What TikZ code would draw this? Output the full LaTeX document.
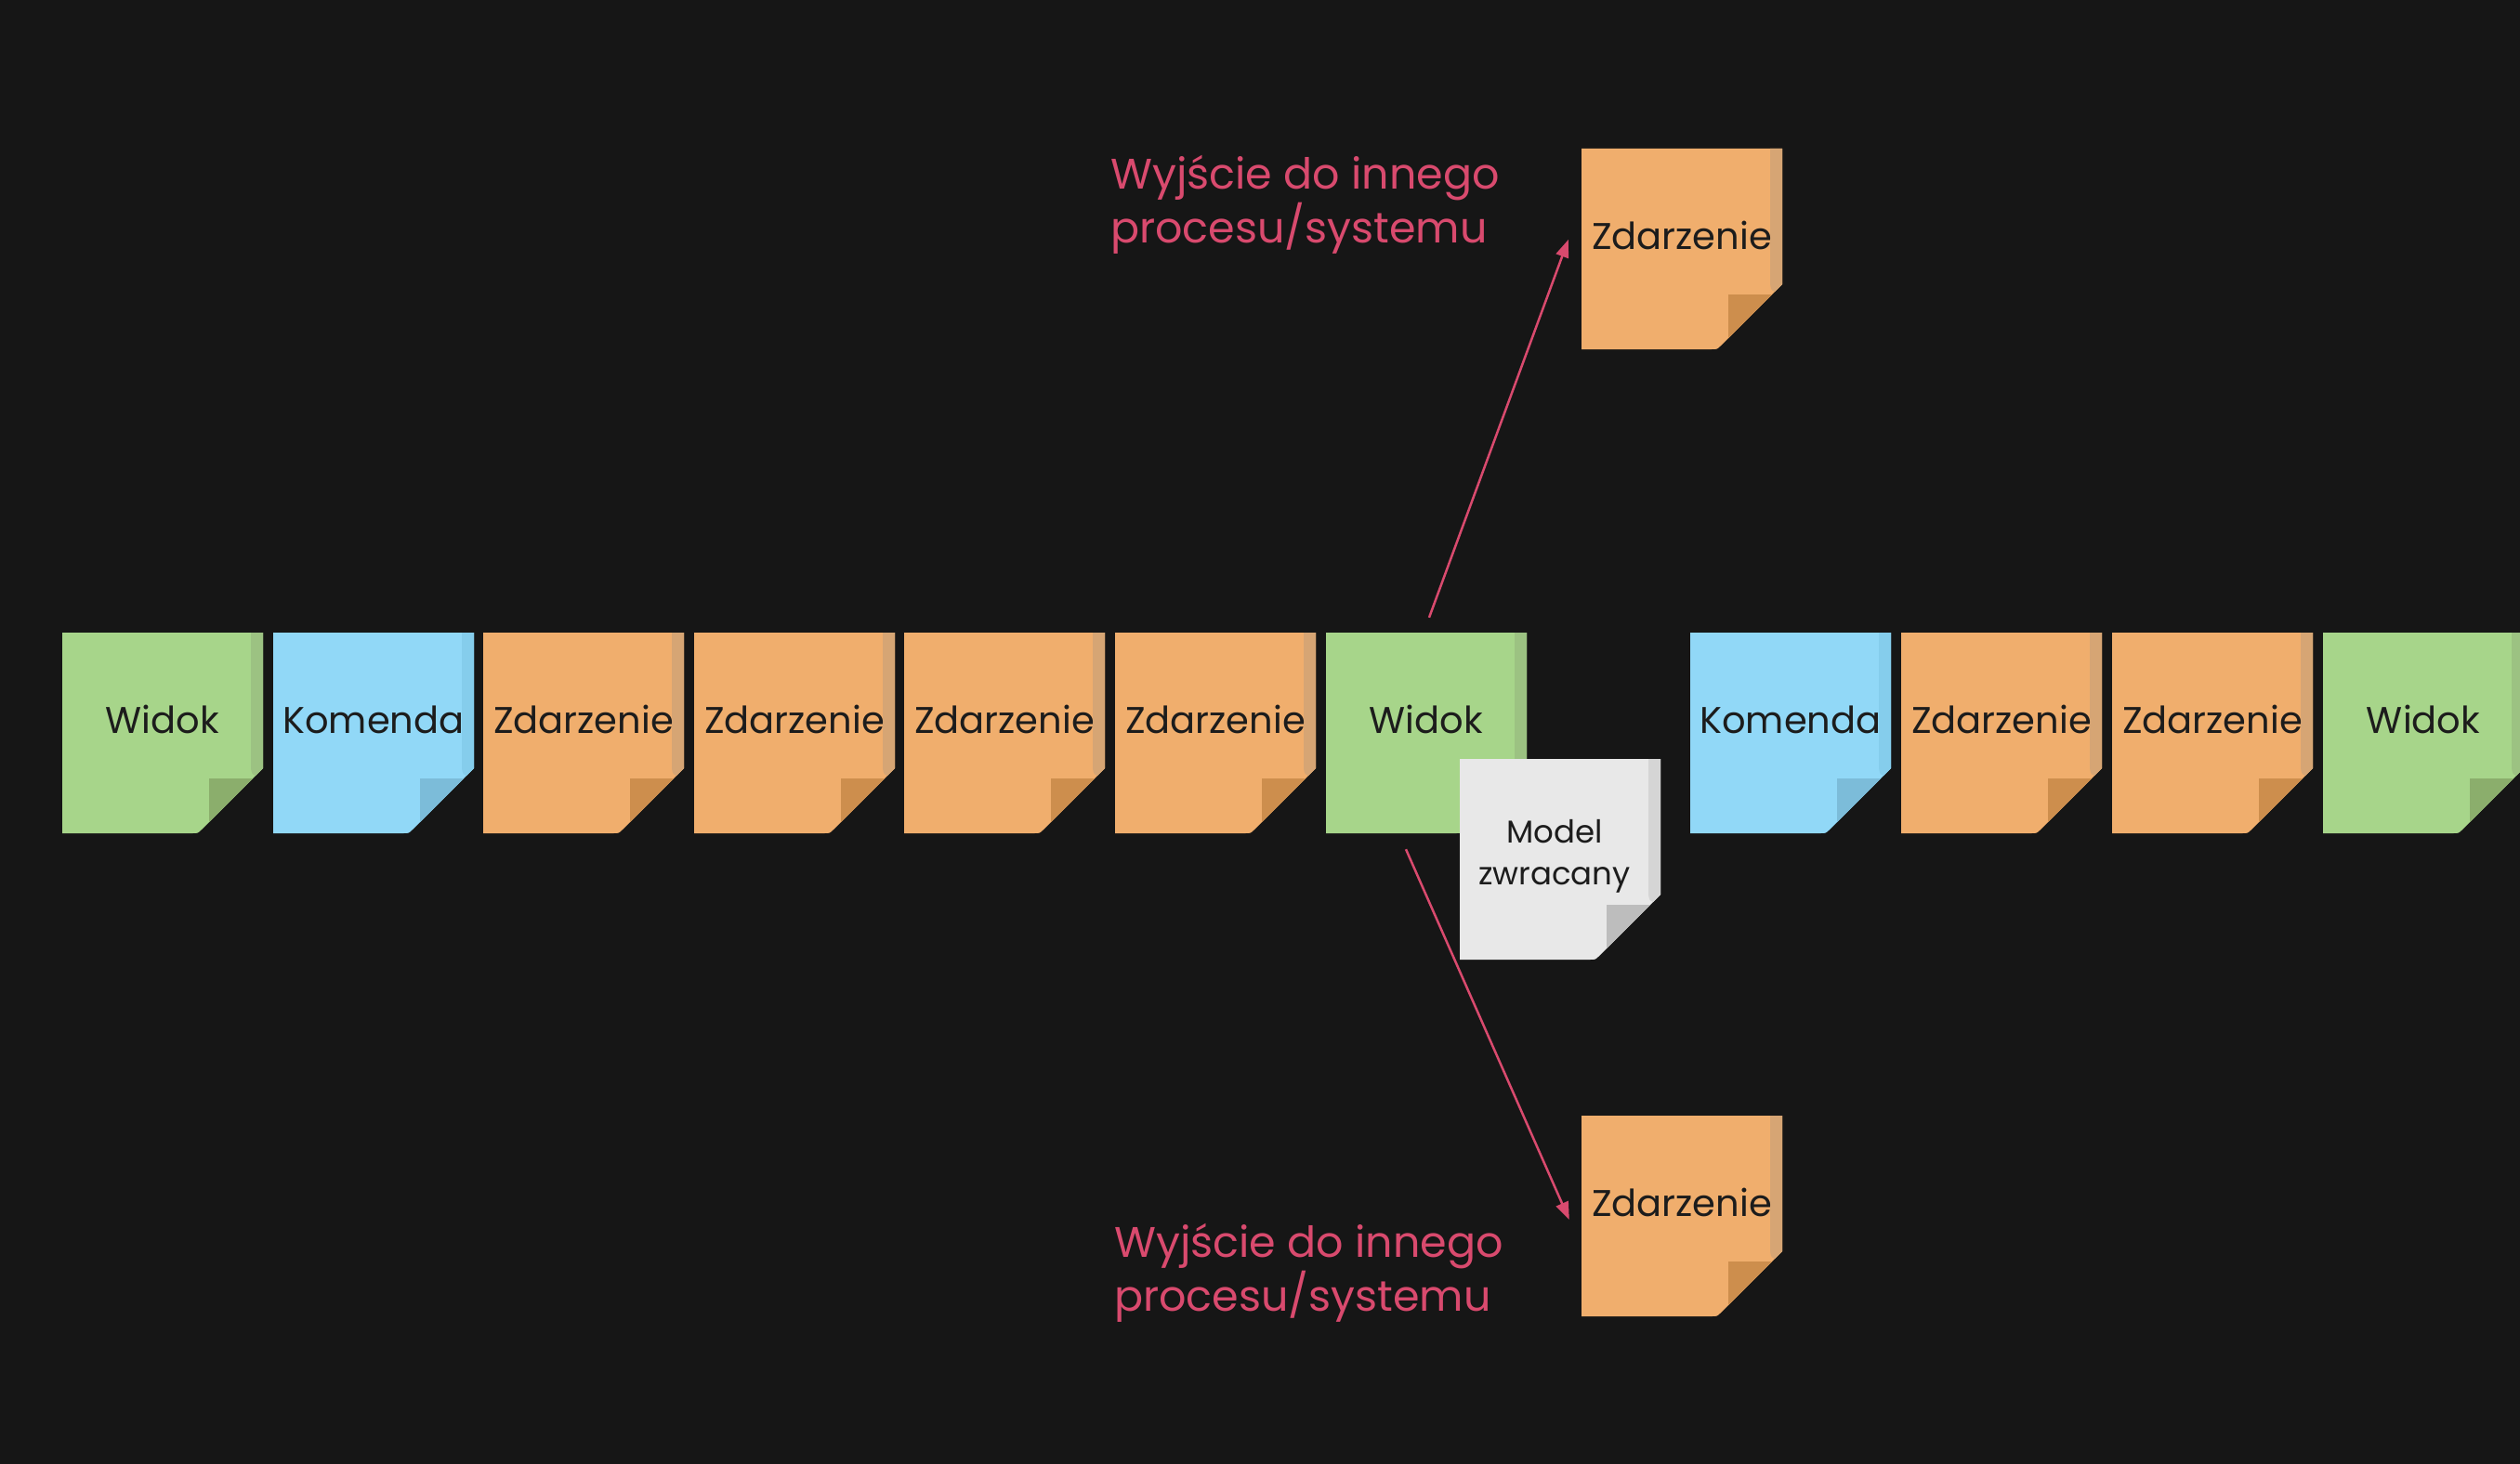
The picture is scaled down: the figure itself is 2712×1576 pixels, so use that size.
\documentclass[tikz,border=0pt]{standalone}
\usepackage{fontspec}
\setmainfont{Poppins}
\usetikzlibrary{calc,arrows.meta}
\definecolor{bg}{HTML}{161616}
\definecolor{gbody}{HTML}{A7D58A}
\definecolor{gstrip}{HTML}{9CC282}
\definecolor{gfold}{HTML}{8BAE6C}
\definecolor{bbody}{HTML}{91D8F7}
\definecolor{bstrip}{HTML}{85CDEC}
\definecolor{bfold}{HTML}{7CBCD9}
\definecolor{obody}{HTML}{F0AE6D}
\definecolor{ostrip}{HTML}{D6A574}
\definecolor{ofold}{HTML}{CD8E4D}
\definecolor{wbody}{HTML}{E8E8E8}
\definecolor{wstrip}{HTML}{D5D5D5}
\definecolor{wfold}{HTML}{BDBDBD}
\definecolor{ink}{HTML}{1C1C1C}
\definecolor{accent}{HTML}{D94A6E}
\tikzset{
  notebox/.style={rectangle, minimum width=216pt, minimum height=216pt, inner sep=0pt, draw=none},
  notetext/.style={anchor=base, inner sep=0pt, text=ink, font=\fontsize{40}{48}\selectfont},
  smalltext/.style={anchor=base, inner sep=0pt, text=ink, font=\fontsize{34}{40}\selectfont},
  lbl/.style={anchor=base west, inner sep=0pt, text=accent, font=\fontsize{46}{58}\selectfont},
  arr/.style={draw=accent, line width=2.5pt, -{Triangle[length=19pt,width=14pt]}}
}
% #1 name, #2 x, #3 y, #4 palette
\newcommand\snoteshape[4]{%
  \begin{scope}[shift={(#2,#3)}]
    \fill[#4body] (0,0) -- (216,0) -- (216,146) -- (150,212) .. controls (146,216) .. (140,216) -- (0,216) -- cycle;
    \fill[#4strip] (203,0) -- (216,0) -- (216,146) -- (208,154) .. controls (204,152) .. (203,146) -- cycle;
    \fill[#4fold] (158,157) -- (205,157) -- (158,204) -- cycle;
  \end{scope}
  \node[notebox] (#1) at (#2+108,#3+108) {};
}
% #1 name, #2 x, #3 y, #4 palette, #5 text
\newcommand\snote[5]{%
  \snoteshape{#1}{#2}{#3}{#4}%
  \node[notetext] at (#2+108,#3+108) {#5};
}
\begin{document}
\begin{tikzpicture}[x=1pt,y=-1pt]
\clip (0,0) rectangle (2712,1576);
\fill[bg] (0,0) rectangle (2712,1576);

\snote{w1}{67}{681}{g}{Widok}
\snote{k1}{294}{681}{b}{Komenda}
\snote{z1}{520}{681}{o}{Zdarzenie}
\snote{z2}{747}{681}{o}{Zdarzenie}
\snote{z3}{973}{681}{o}{Zdarzenie}
\snote{z4}{1200}{681}{o}{Zdarzenie}
\snote{w2}{1427}{681}{g}{Widok}
\snote{k2}{1819}{681}{b}{Komenda}
\snote{z5}{2046}{681}{o}{Zdarzenie}
\snote{z6}{2273}{681}{o}{Zdarzenie}
\snote{w3}{2500}{681}{g}{Widok}

\snote{ztop}{1702}{160}{o}{Zdarzenie}
\snote{zbot}{1702}{1201}{o}{Zdarzenie}

\snoteshape{model}{1571}{817}{w}
\node[smalltext] (m1) at (1673,907) {Model};
\node[smalltext] (m2) at (1673,952) {zwracany};

\node[lbl] (t1) at (1195,203) {Wyjście do innego};
\node[lbl] (t2) at (1195,261) {procesu/systemu};
\node[lbl] (b1) at (1199,1353) {Wyjście do innego};
\node[lbl] (b2) at (1199,1411) {procesu/systemu};

\draw[arr] ($(w2.north)+(3,-16)$) -- ($(ztop.west)+(-14,-10)$);
\draw[arr] ($(w2.south)+(-22,17)$) -- ($(zbot.west)+(-13,4)$);
\end{tikzpicture}
\end{document}
